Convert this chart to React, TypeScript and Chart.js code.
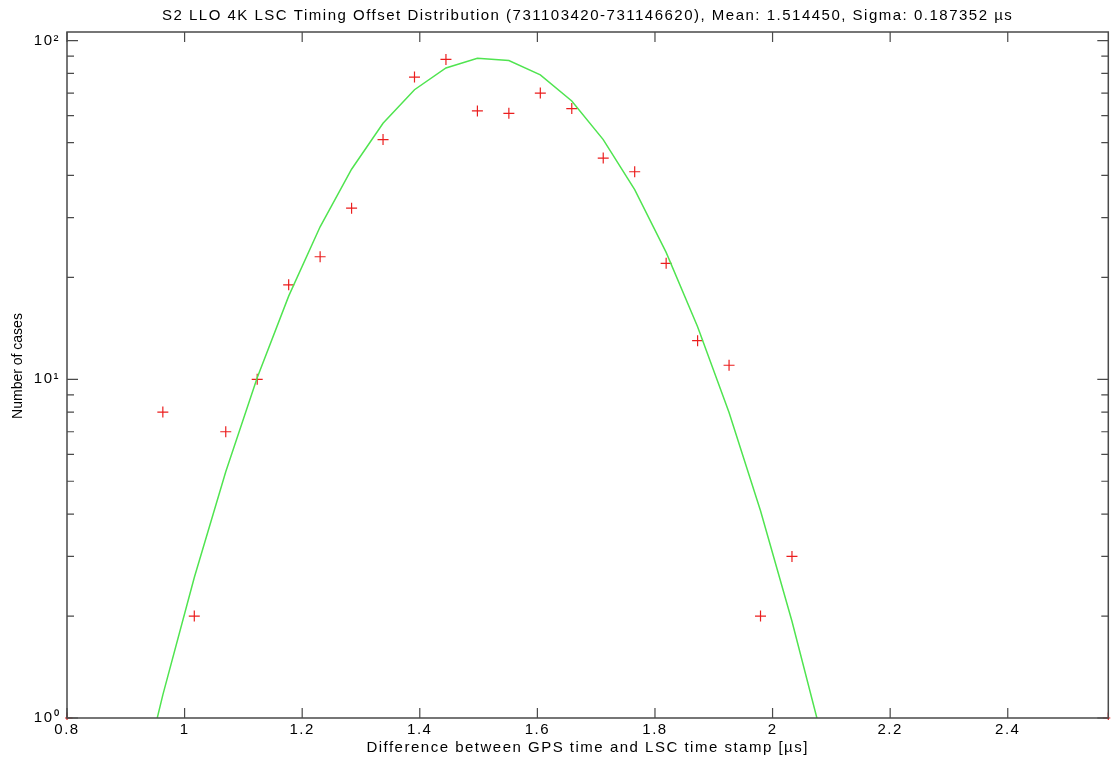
import React, { useEffect, useRef } from 'react';
import { Chart, registerables } from 'chart.js';

Chart.register(...registerables);

const titleText =
  'S2 LLO 4K LSC Timing Offset Distribution (731103420-731146620), Mean: 1.514450, Sigma: 0.187352 \u00b5s';
const xAxisTitle = 'Difference between GPS time and LSC time stamp [\u00b5s]';
const yAxisTitle = 'Number of cases';

const xTickValues = [0.8, 1, 1.2, 1.4, 1.6, 1.8, 2, 2.2, 2.4];
const yTickValues = [1, 2, 3, 4, 5, 6, 7, 8, 9, 10, 20, 30, 40, 50, 60, 70, 80, 90, 100];
const yMajorLabels: Record<number, string> = { 1: '10\u2070', 10: '10\u00b9', 100: '10\u00b2' };

const xMin = 0.8;
const xMax = 2.571;
const yMin = 1;
const yMax = 106;

// histogram bin centres and counts (red crosses)
const binX = [
  0.963, 1.0165, 1.07, 1.1235, 1.177, 1.2305, 1.284, 1.3375, 1.391, 1.4445, 1.498,
  1.5515, 1.605, 1.6585, 1.712, 1.7655, 1.819, 1.8725, 1.926, 1.9795, 2.033,
];
const counts = [8, 2, 7, 10, 19, 23, 32, 51, 78, 88, 62, 61, 70, 63, 45, 41, 22, 13, 11, 2, 3];

// marks sitting on the plot corners
const edgeX = [0.8, 2.571];
const edgeCounts = [1, 1];

// Gaussian fit curve (green polyline), read at sample positions
const fitX = [
  0.909, 0.963, 1.0165, 1.07, 1.1235, 1.177, 1.2305, 1.284, 1.3375, 1.391, 1.4445, 1.498,
  1.5515, 1.605, 1.6585, 1.712, 1.7655, 1.819, 1.8725, 1.926, 1.9795, 2.033, 2.087,
];
const fitY = [
  0.48, 1.17, 2.6, 5.33, 10.1, 17.6, 28.2, 41.7, 57.0, 71.6, 83.0, 88.7, 87.3, 79.2, 66.3,
  51.0, 36.3, 23.7, 14.3, 7.98, 4.09, 1.93, 0.835,
];

const FONT = 'Arial, "Liberation Sans", Helvetica, sans-serif';
const AXIS_COLOR = '#4a4a4a';

const boxPlugin = {
  id: 'matlabBox',
  beforeLayout(chart: any) {
    chart.ctx.letterSpacing = '1.5px';
  },
  beforeDraw(chart: any) {
    chart.ctx.letterSpacing = '1.5px';
  },
  afterDatasetsDraw(chart: any) {
    const { ctx, chartArea } = chart;
    const { left, right, top, bottom } = chartArea;
    const xs = chart.scales.x;
    const ys = chart.scales.y;
    ctx.save();
    ctx.strokeStyle = AXIS_COLOR;
    ctx.lineWidth = 1.5;
    ctx.beginPath();
    ctx.rect(left, top, right - left, bottom - top);
    ctx.stroke();
    ctx.lineWidth = 1.2;
    ctx.beginPath();
    xTickValues.forEach((v) => {
      const px = xs.getPixelForValue(v);
      ctx.moveTo(px, bottom);
      ctx.lineTo(px, bottom - 10);
      ctx.moveTo(px, top);
      ctx.lineTo(px, top + 10);
    });
    yTickValues.forEach((v) => {
      const py = ys.getPixelForValue(v);
      const major = yMajorLabels[v] !== undefined;
      const len = major ? 11 : 7;
      ctx.moveTo(left, py);
      ctx.lineTo(left + len, py);
      ctx.moveTo(right, py);
      ctx.lineTo(right - len, py);
    });
    ctx.stroke();
    ctx.restore();
  },
  afterDraw(chart: any) {
    const { ctx } = chart;
    ctx.save();
    ctx.letterSpacing = '0px';
    ctx.translate(18, 366);
    ctx.rotate(-Math.PI / 2);
    ctx.fillStyle = '#000';
    ctx.font = `14px ${FONT}`;
    ctx.textAlign = 'center';
    ctx.textBaseline = 'middle';
    ctx.fillText(yAxisTitle, 0, 0);
    ctx.restore();
  },
};

export default function App() {
  const canvasRef = useRef<HTMLCanvasElement | null>(null);

  useEffect(() => {
    const canvas = canvasRef.current;
    if (!canvas) return;
    const chart = new Chart(canvas, {
      type: 'scatter',
      data: {
        datasets: [
          {
            type: 'line',
            label: 'Gaussian fit',
            data: fitX.map((x, i) => ({ x, y: fitY[i] })),
            borderColor: 'rgb(80,228,80)',
            borderWidth: 1.5,
            pointRadius: 0,
            tension: 0,
            fill: false,
          },
          {
            label: 'Counts',
            data: binX.map((x, i) => ({ x, y: counts[i] })),
            pointStyle: 'cross',
            pointRadius: 5.5,
            borderColor: 'rgb(235,30,30)',
            backgroundColor: 'rgb(235,30,30)',
            borderWidth: 1.2,
          },
          {
            label: 'Edges',
            data: edgeX.map((x, i) => ({ x, y: edgeCounts[i] })),
            pointStyle: 'cross',
            pointRadius: 5.5,
            borderColor: 'rgb(235,30,30)',
            backgroundColor: 'rgb(235,30,30)',
            borderWidth: 1.2,
            clip: 2,
          },
        ],
      },
      options: {
        responsive: false,
        animation: false,
        layout: { padding: { left: 0, right: 5, top: 0, bottom: 0 } },
        plugins: {
          legend: { display: false },
          tooltip: { enabled: false },
          title: {
            display: true,
            text: titleText,
            fullSize: false,
            color: '#000',
            font: { family: FONT, size: 15, weight: 'normal' },
            padding: { top: 7, bottom: 7 },
          },
        },
        scales: {
          x: {
            type: 'linear',
            min: xMin,
            max: xMax,
            grid: { display: false, drawTicks: false },
            border: { display: false },
            afterBuildTicks: (scale: any) => {
              scale.ticks = xTickValues.map((v) => ({ value: v }));
            },
            afterFit: (scale: any) => {
              scale.height = 43;
            },
            ticks: {
              autoSkip: false,
              maxRotation: 0,
              padding: 3,
              color: '#000',
              font: { family: FONT, size: 15 },
              callback: (v: any) => String(parseFloat(Number(v).toFixed(2))),
            },
            title: {
              display: true,
              text: xAxisTitle,
              color: '#000',
              font: { family: FONT, size: 15 },
              padding: { top: 0, bottom: 4 },
            },
          },
          y: {
            type: 'logarithmic',
            min: yMin,
            max: yMax,
            grid: { display: false, drawTicks: false },
            border: { display: false },
            afterBuildTicks: (scale: any) => {
              scale.ticks = yTickValues.map((v) => ({ value: v }));
            },
            afterFit: (scale: any) => {
              scale.width = 67;
            },
            ticks: {
              autoSkip: false,
              padding: 7,
              color: '#000',
              font: { family: FONT, size: 15 },
              callback: (v: any) => yMajorLabels[Number(v)] ?? '',
            },
            title: { display: false, text: yAxisTitle },
          },
        },
      },
      plugins: [boxPlugin],
    });
    return () => chart.destroy();
  }, []);

  return (
    <div style={{ position: 'absolute', left: 0, top: 0, width: 1115, height: 761, background: '#fff' }}>
      <canvas ref={canvasRef} width={1115} height={761} />
    </div>
  );
}
